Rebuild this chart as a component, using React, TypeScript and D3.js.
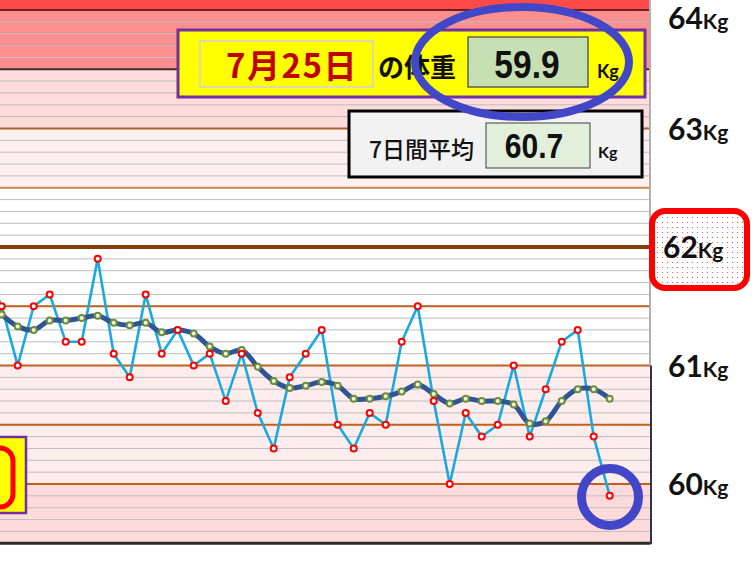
import React from 'react';
import * as d3 from 'd3';

// daily weight (kg), first value is the day just left of the visible area
const weights = [
  61.8, 61.5, 61.0, 61.5, 61.6, 61.2, 61.2, 61.9, 61.1, 60.9, 61.6,
  61.1, 61.3, 61.0, 61.1, 60.7, 61.1, 60.6, 60.3, 60.9, 61.1,
  61.3, 60.5, 60.3, 60.6, 60.5, 61.2, 61.5, 60.7, 60.0, 60.6,
  60.4, 60.5, 61.0, 60.4, 60.8, 61.2, 61.3, 60.4, 59.9,
];
// 7 day moving average
const avg7 = [
  61.55, 61.43, 61.33, 61.30, 61.38, 61.38, 61.40, 61.42, 61.36, 61.34, 61.36,
  61.28, 61.30, 61.27, 61.16, 61.10, 61.13, 60.99, 60.87, 60.81, 60.83,
  60.86, 60.83, 60.72, 60.72, 60.74, 60.78, 60.84, 60.76, 60.68, 60.72,
  60.70, 60.70, 60.67, 60.51, 60.53, 60.70, 60.80, 60.80, 60.72,
];
const tickKg = [64, 63, 62, 61, 60];
// background bands [from, to, colour]
const bands: [number, number, string][] = [
  [64, 64.3, '#ff4a4a'],
  [63.5, 64, '#ff8e8e'],
  [63, 63.5, '#ffdcdc'],
  [62.5, 63, '#fff0f0'],
  [61, 62.5, '#ffffff'],
  [60, 61, '#ffeded'],
  [59.5, 60, '#ffdada'],
];
const halfLines: [number, string, number][] = [
  [64, '#6a2020', 2],
  [63.5, '#3c2a2a', 2],
  [63, '#b0602c', 2],
  [62.5, '#c68a52', 2],
  [62, '#843c0c', 4],
  [61.5, '#c0601e', 2],
  [61, '#c0601e', 2],
  [60.5, '#c0601e', 2],
  [60, '#c0601e', 2],
  [59.5, '#2a2a2a', 3],
];
const dateLabel = '7月25日';
const todayWeight = '59.9';
const weekAvg = '60.7';

const W = 756;
const H = 567;
const plotRight = 650;

export default function App() {
  const x = d3.scaleLinear().domain([0, weights.length - 1]).range([-14.3, 609.7]);
  const y = d3.scaleLinear().domain([60, 62]).range([484, 247]);
  const grid = d3.range(596, 643).map(d => d / 10);

  const rawLine = d3.line<number>().x((_, i) => x(i)).y(d => y(d));
  const avgLine = d3.line<number>().x((_, i) => x(i)).y(d => y(d)).curve(d3.curveCatmullRom.alpha(0.5));

  const labelFont = 'Lato, "Open Sans", sans-serif';
  const jpFont = '"Noto Sans CJK JP", sans-serif';
  const narrow = '"Liberation Sans", Arial, sans-serif';
  const ringBlue = '#4147c6';

  return (
    <svg width={W} height={H} style={{ position: 'absolute', left: 0, top: 0, background: '#fff' }}>
      <defs>
        <clipPath id="plot">
          <rect x={0} y={0} width={plotRight} height={H} />
        </clipPath>
        <pattern id="dots" width={5} height={5} patternUnits="userSpaceOnUse">
          <rect width={5} height={5} fill="#fff" />
          <circle cx={2.5} cy={2.5} r={0.6} fill="#e04040" />
        </pattern>
      </defs>

      {/* bands */}
      {bands.map(([a, b, c]) => (
        <rect key={a} x={0} y={Math.max(0, y(b))} width={plotRight} height={y(a) - Math.max(0, y(b))} fill={c} />
      ))}
      {grid.map(v => (
        <line key={v} x1={0} x2={plotRight} y1={y(v)} y2={y(v)} stroke="#bdbdbd" strokeWidth={1} />
      ))}
      {halfLines.map(([v, c, w]) => (
        <line key={v} x1={0} x2={v === 62 ? 660 : plotRight} y1={y(v)} y2={y(v)} stroke={c} strokeWidth={w} />
      ))}
      <line x1={plotRight} x2={plotRight} y1={0} y2={y(61)} stroke="#b0b0b0" strokeWidth={2} />
      <line x1={plotRight + 1} x2={plotRight + 1} y1={y(61)} y2={y(59.5) + 1} stroke="#2c3550" strokeWidth={2} />

      {/* bottom-left box */}
      <rect x={-10} y={437} width={36} height={76} fill="#ffff00" stroke="#7030a0" strokeWidth={2.5} />
      <rect x={-60} y={448} width={73} height={59} rx={13} fill="none" stroke="#ff0000" strokeWidth={5} />

      {/* data */}
      <g clipPath="url(#plot)">
        <path d={rawLine(weights) || ''} fill="none" stroke="#19a9e2" strokeWidth={2.6} />
        <path d={avgLine(avg7) || ''} fill="none" stroke="#2f5597" strokeWidth={5} />
        {avg7.map((v, i) => (
          <circle key={'a' + i} cx={x(i)} cy={y(v)} r={3} fill="#f2f2d8" stroke="#6b8e3a" strokeWidth={2} />
        ))}
        {weights.map((v, i) => (
          <circle key={'w' + i} cx={x(i)} cy={y(v)} r={3} fill="#fff" stroke="#ff0000" strokeWidth={2} />
        ))}
      </g>

      {/* right axis labels */}
      <rect x={652} y={211} width={95} height={77} rx={13} fill="url(#dots)" stroke="#ff0000" strokeWidth={6} />
      {tickKg.map(v => (
        <text
          key={v}
          x={v === 62 ? 663 : 668}
          y={v === 64 ? 29 : y(v) + 11}
          fontFamily={labelFont}
          fontWeight={700}
          fontSize={30}
          fill="#111"
        >
          {v}
          <tspan fontSize={21}>Kg</tspan>
        </text>
      ))}

      {/* today's weight box */}
      <rect x={178} y={30} width={467} height={67} fill="#ffff00" stroke="#7030a0" strokeWidth={3} />
      <rect x={200} y={41} width={173} height={46} fill="#ffff00" stroke="#dcdca8" strokeWidth={2} />
      <text x={292} y={78} textAnchor="middle" fontFamily={jpFont} fontWeight={700} fontSize={33} fill="#c00000" letterSpacing={1.5}>
        {dateLabel}
      </text>
      <text x={378} y={77} fontFamily={jpFont} fontWeight={700} fontSize={26} fill="#111">
        の体重
      </text>
      <rect x={468} y={37} width={120} height={50} fill="#c6e0b4" stroke="#404040" strokeWidth={1.2} />
      <text transform="translate(527,78) scale(0.86,1)" textAnchor="middle" fontFamily={narrow} fontWeight={700} fontSize={39} fill="#111">
        {todayWeight}
      </text>
      <text x={597} y={78} fontFamily={labelFont} fontWeight={700} fontSize={18} fill="#111">
        Kg
      </text>

      {/* 7 day average box */}
      <rect x={349} y={111} width={293} height={66} fill="#f2f2f2" stroke="#000" strokeWidth={3} />
      <text x={369} y={158} fontFamily={jpFont} fontWeight={500} fontSize={23} fill="#111">
        7日間平均
      </text>
      <rect x={486} y={123} width={104} height={45} fill="#e2efda" stroke="#404040" strokeWidth={1} />
      <text transform="translate(534,158) scale(0.86,1)" textAnchor="middle" fontFamily={narrow} fontWeight={700} fontSize={35} fill="#111">
        {weekAvg}
      </text>
      <text x={598} y={158} fontFamily={labelFont} fontWeight={700} fontSize={16} fill="#111">
        Kg
      </text>

      {/* highlight rings */}
      <ellipse cx={522} cy={62} rx={107} ry={55} fill="none" stroke={ringBlue} strokeWidth={8} />
      <circle cx={610} cy={497} r={28.5} fill="none" stroke={ringBlue} strokeWidth={9} />
    </svg>
  );
}
